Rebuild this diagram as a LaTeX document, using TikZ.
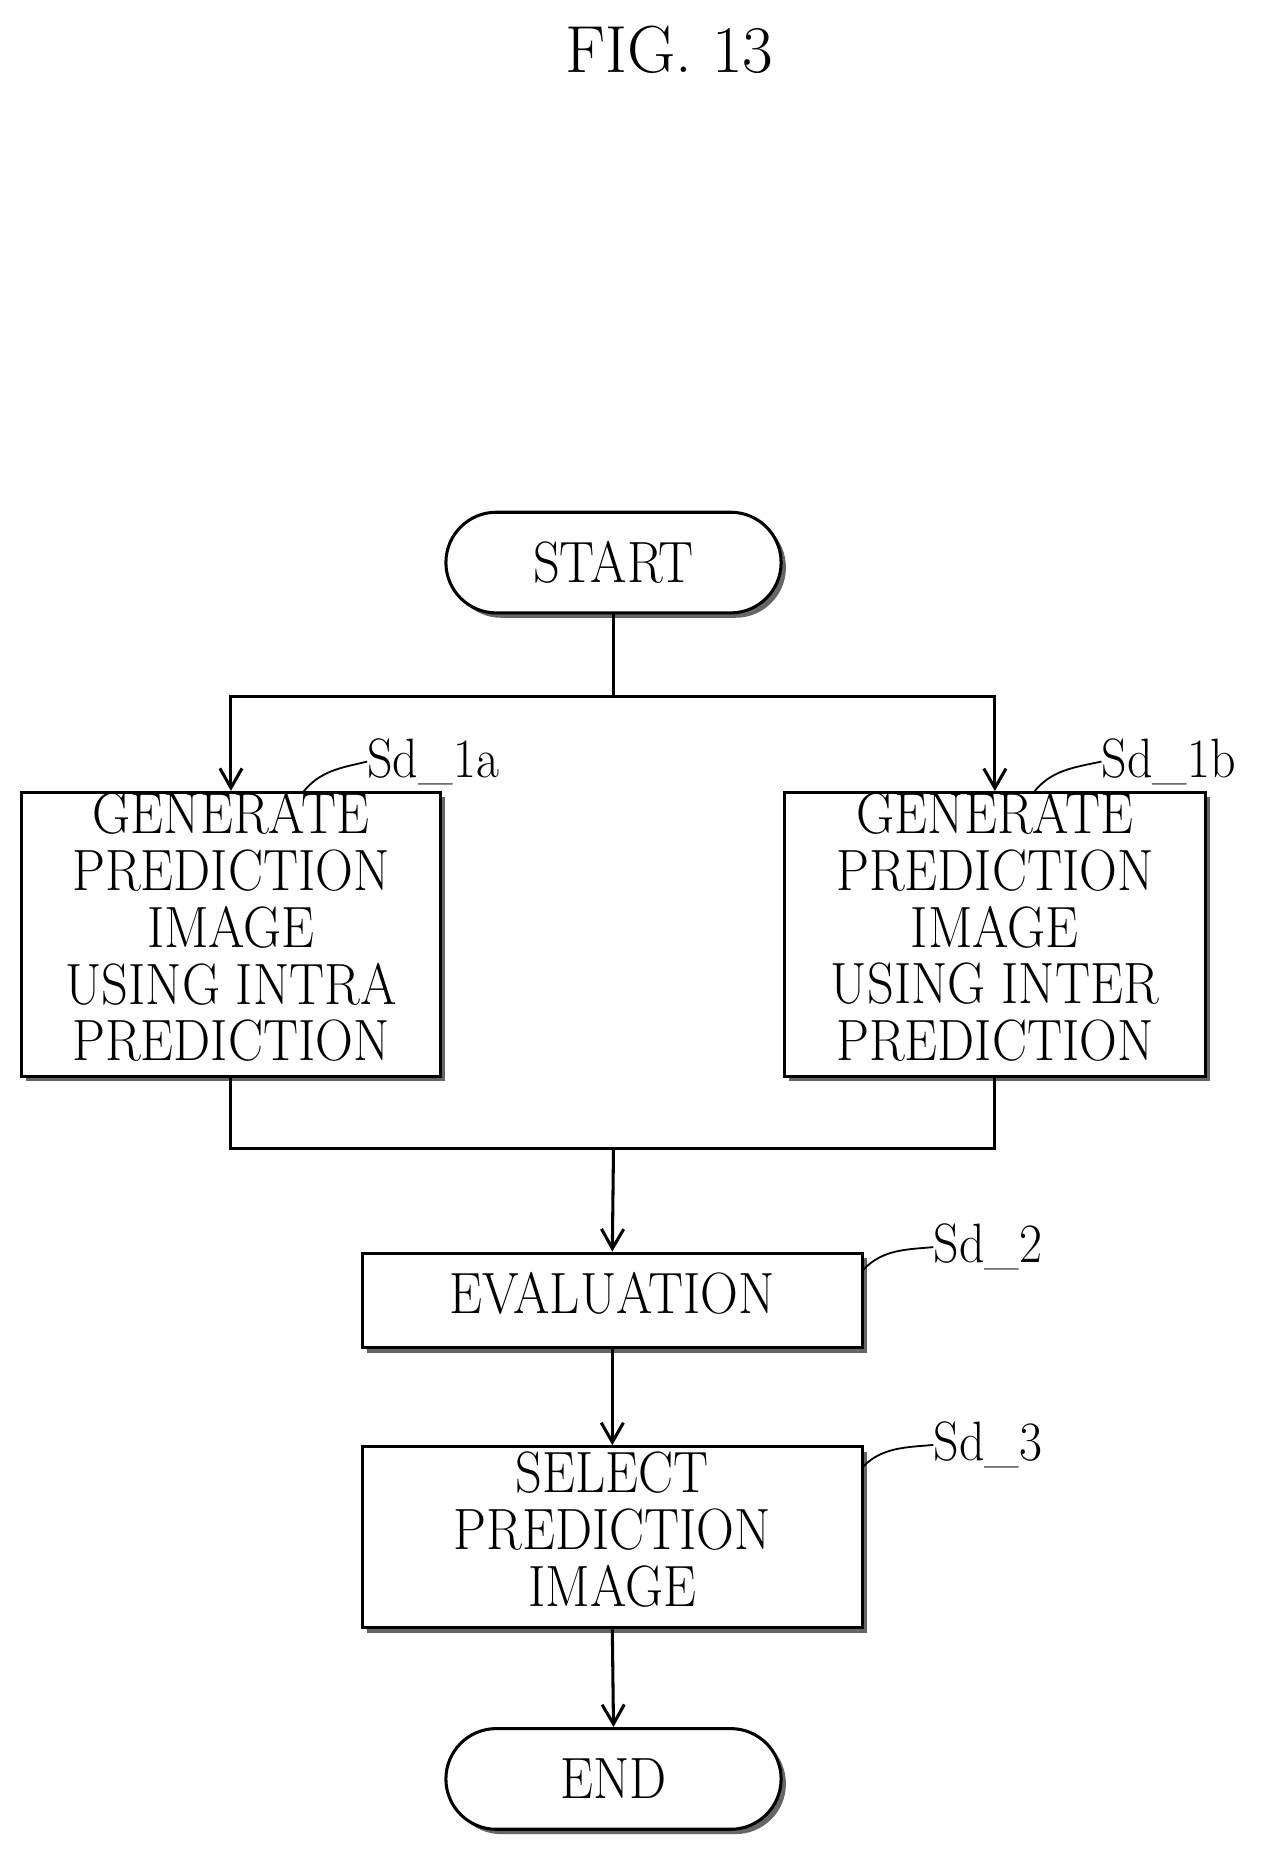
\documentclass[tikz,border=0pt]{standalone}
\usetikzlibrary{shapes.misc,shadows,arrows.meta}
\newcommand{\bt}[1]{\scalebox{0.9}[1]{\begin{tabular}{@{}c@{}}#1\end{tabular}}}
\begin{document}
\begin{tikzpicture}[x=0.03cm,y=-0.03cm,
  every node/.style={font=\fontsize{42}{38}\selectfont, inner sep=0pt},
  box/.style={draw, line width=2.2pt, rectangle, fill=white,
    drop shadow={shadow xshift=3.5pt, shadow yshift=-3.5pt, fill=black!60, opacity=1}},
  term/.style={box, rounded rectangle, minimum width=8.49cm, minimum height=2.55cm},
  line/.style={line width=2.2pt},
  arr/.style={line, -{Straight Barb[length=14pt,width=16pt,line width=2.2pt]}},
  lbl/.style={font=\fontsize{40}{40}\selectfont, anchor=west},
  lead/.style={line width=1.3pt}]
\useasboundingbox (0,0) rectangle (1075,1573);
\node[font=\fontsize{48}{48}\selectfont] (title) at (565,42) {FIG. 13};
\node[term] (start) at (518,475) {\scalebox{0.9}[1]{START}};
\node[box, minimum width=10.62cm, minimum height=7.02cm] (a) at (195,789)
  {\bt{GENERATE\\PREDICTION\\IMAGE\\USING INTRA\\PREDICTION}};
\node[box, minimum width=10.65cm, minimum height=7.02cm] (b) at (840,789)
  {\bt{GENERATE\\PREDICTION\\IMAGE\\USING INTER\\PREDICTION}};
\node[box, minimum width=12.66cm, minimum height=2.4cm] (ev) at (517,1098) {\bt{EVALUATION}};
\node[box, minimum width=12.66cm, minimum height=4.59cm] (sel) at (517,1298) {\bt{SELECT\\PREDICTION\\IMAGE}};
\node[term] (end) at (518,1502) {\scalebox{0.9}[1]{END}};
\coordinate (s1) at (518,588);
\coordinate (m1) at (518,970);
\draw[line] (start.south) -- (s1);
\draw[arr] (s1) -| (a.north);
\draw[arr] (s1) -| (b.north);
\draw[line] (a.south) |- (m1);
\draw[line] (b.south) |- (m1);
\draw[arr] (m1) -- (ev.north);
\draw[arr] (ev.south) -- (sel.north);
\draw[arr] (sel.south) -- (end.north);
\node[lbl] (l1a) at (310,643) {\scalebox{0.9}[1]{Sd\_1a}};
\node[lbl] (l1b) at (930,643) {\scalebox{0.9}[1]{Sd\_1b}};
\node[lbl] (l2) at (788,1053) {\scalebox{0.9}[1]{Sd\_2}};
\node[lbl] (l3) at (788,1220) {\scalebox{0.9}[1]{Sd\_3}};
\draw[lead] (255,670) .. controls (270,650) and (290,648) .. (l1a.west);
\draw[lead] (872,670) .. controls (887,650) and (907,648) .. (l1b.west);
\draw[lead] (729,1072) .. controls (745,1055) and (765,1055) .. (l2.west);
\draw[lead] (729,1238) .. controls (745,1222) and (765,1222) .. (l3.west);
\end{tikzpicture}
\end{document}
